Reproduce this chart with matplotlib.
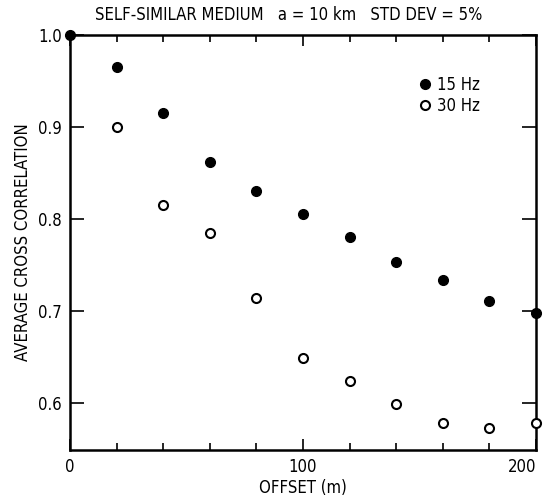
import matplotlib
matplotlib.use("Agg")
import matplotlib.pyplot as plt
from matplotlib.ticker import MultipleLocator

offset = [0, 20, 40, 60, 80, 100, 120, 140, 160, 180, 200]
corr_15 = [1.0, 0.965, 0.915, 0.862, 0.830, 0.805, 0.780, 0.753, 0.734, 0.711, 0.698]
corr_30 = [1.0, 0.900, 0.815, 0.785, 0.714, 0.649, 0.624, 0.599, 0.578, 0.573, 0.578]
xticks = [0, 100, 200]
yticks = [0.6, 0.7, 0.8, 0.9, 1.0]
ytick_labels = ["0.6", "0.7", "0.8", "0.9", "1.0"]

plt.rcParams['font.family'] = ['DejaVu Sans']
plt.rcParams['font.stretch'] = 'condensed'

fig = plt.figure(figsize=(5.43, 5.01), dpi=100)
ax = fig.add_axes([0.129, 0.102, 0.858, 0.828])

ax.plot(offset[1:], corr_30[1:], 'o', mfc='white', mec='black', mew=1.5, ms=6.5,
        clip_on=False, label='30 Hz', zorder=3)
ax.plot(offset, corr_15, 'o', color='black', ms=7, clip_on=False, label='15 Hz', zorder=4)

ax.set_xlim(0, 200)
ax.set_ylim(0.549, 1.0)
ax.set_xticks(xticks)
ax.xaxis.set_minor_locator(MultipleLocator(20))
ax.set_yticks(yticks)
ax.set_yticklabels(ytick_labels)

ax.tick_params(axis='x', which='major', direction='in', length=8, width=1.2, top=True,
               labelsize=12, pad=6)
ax.tick_params(axis='x', which='minor', direction='in', length=5, width=1.2, top=True)
ax.tick_params(axis='y', which='major', direction='in', length=10, width=1.2, right=True,
               labelsize=12, pad=6)
for s in ax.spines.values():
    s.set_linewidth(1.8)
xl = ax.get_xticklabels()
xl[-1].set_horizontalalignment('right')
xl[-1].set_x(200)

ax.set_xlabel('OFFSET (m)', fontsize=12, labelpad=2)
ax.set_ylabel('AVERAGE CROSS CORRELATION', fontsize=12)
ax.set_title('SELF-SIMILAR MEDIUM   a = 10 km   STD DEV = 5%', fontsize=12, pad=11,
             x=0.47)

handles, labels = ax.get_legend_handles_labels()
ax.legend(handles[::-1], labels[::-1], loc='upper right', bbox_to_anchor=(0.912, 0.937),
          frameon=False, fontsize=12, handletextpad=0.2, labelspacing=0.15, handlelength=1)

fig.savefig('out.png', dpi=100)
